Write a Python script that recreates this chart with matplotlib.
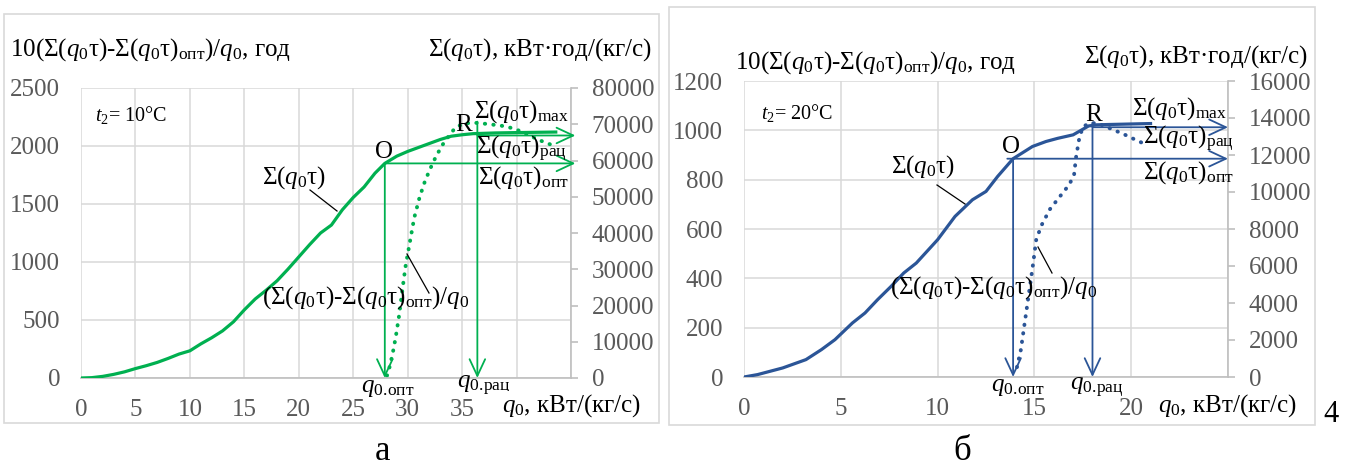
import matplotlib
matplotlib.use("Agg")
import matplotlib.pyplot as plt
from matplotlib.patches import Rectangle
from matplotlib.lines import Line2D

plt.rcParams['font.family'] = ['Liberation Serif', 'DejaVu Serif']
plt.rcParams['mathtext.fontset'] = 'custom'
plt.rcParams['mathtext.rm'] = 'Liberation Serif'
plt.rcParams['mathtext.it'] = 'Liberation Serif:italic'
plt.rcParams['mathtext.bf'] = 'Liberation Serif:bold'

# ---------------- data: panel "а" (t2 = 10 °C) ----------------
q0_a = [0, 1, 2, 3, 4, 5, 6, 7, 8, 9, 10, 11, 12, 13, 14, 15, 16, 17, 18, 19,
        20, 21, 22, 23, 24, 25, 26, 27, 27.9, 29, 30, 31, 32, 33, 34, 35, 36,
        38, 40, 43.6]
sum_a = [0, 100, 450, 1000, 1700, 2600, 3400, 4300, 5400, 6600, 7500, 9400,
         11100, 13000, 15500, 18800, 21800, 24200, 26800, 30000, 33400, 36800,
         40000, 42200, 46400, 49800, 52700, 56500, 59200, 61200, 62500, 63600,
         64700, 65800, 66700, 67100, 67400, 67600, 67700, 67850]
q0_diff_a = [28.1, 28.3, 28.6, 28.9, 29.2, 29.5, 29.8, 30.2, 30.6, 31.1, 31.6,
             32.1, 32.6, 33.2, 33.8, 34.4, 35.2, 36.2, 37.3, 38.6, 39.8, 41.0,
             42.1, 43.2]
diff_a = [20, 80, 200, 350, 530, 750, 960, 1170, 1380, 1560, 1700, 1810, 1910,
          2010, 2090, 2160, 2195, 2200, 2190, 2175, 2150, 2100, 2050, 2010]
q_opt_a, sum_opt_a = 27.9, 59200
q_rac_a, sum_rac_a, diff_max_a = 36.4, 66900, 2210

# ---------------- data: panel "б" (t2 = 20 °C) ----------------
q0_b = [0, 0.7, 2, 3.2, 4, 4.7, 5.6, 6.25, 6.9, 7.6, 8.25, 8.9, 10, 10.9, 11.8,
        12.5, 13.1, 13.9, 14.9, 15.6, 16.2, 17, 17.45, 17.8, 18.2, 18.9, 21]
sum_b = [0, 130, 490, 940, 1480, 2020, 2920, 3460, 4180, 4900, 5620, 6160,
         7420, 8680, 9580, 10030, 10840, 11800, 12460, 12730, 12900, 13090,
         13360, 13570, 13630, 13650, 13700]
q0_diff_b = [14.1, 14.3, 14.5, 14.7, 14.9, 15.1, 15.4, 15.8, 16.3, 16.8, 17.05,
             17.15, 17.3, 17.5, 17.9, 18.3, 18.9, 19.6, 20.4, 20.7]
diff_b = [40, 110, 220, 330, 440, 560, 620, 680, 730, 780, 820, 890, 960, 1015,
          1030, 1028, 1008, 985, 955, 945]
q_opt_b, sum_opt_b = 13.9, 11800
q_rac_b, sum_rac_b, diff_max_b = 18.0, 13500, 1030

GREEN = '#00B050'
BLUE = '#2B5597'
TICK_C = '#595959'
GRID_C = '#D9D9D9'
SPINE_C = '#BFBFBF'
FS = 18

W, H = 1353, 470
fig = plt.figure(figsize=(W / 100, H / 100), dpi=100)


def fx(x):
    return x / W


def fy(y):
    return 1 - y / H


def ftext(x, y, s, size=FS, ha='left', va='center', **kw):
    fig.text(fx(x), fy(y), s, fontsize=size, ha=ha, va=va, color='black', **kw)


def fline(x0, y0, x1, y1):
    fig.add_artist(Line2D([fx(x0), fx(x1)], [fy(y0), fy(y1)], color='black',
                          lw=0.9, transform=fig.transFigure))


def frame(x0, y0, x1, y1):
    fig.add_artist(Rectangle((fx(x0), fy(y1)), (x1 - x0) / W, (y1 - y0) / H,
                             transform=fig.transFigure, fill=False,
                             ec='#D9D9D9', lw=1.2))


def make_panel(l, t, r, b, xmax, ylmax, ylstep, yrmax, yrstep, xlabels_upto):
    ax = fig.add_axes([fx(l), fy(b), (r - l) / W, (b - t) / H])
    ax.set_xlim(0, xmax)
    ax.set_ylim(0, ylmax)
    ax.set_xticks(range(0, int(xmax) + 1, 5))
    ax.set_xticklabels([str(v) if v <= xlabels_upto else '' for v in range(0, int(xmax) + 1, 5)])
    ax.set_yticks(range(0, ylmax + 1, ylstep))
    ax.grid(True, color=GRID_C, lw=1.1)
    ax.set_axisbelow(True)
    for s in ('top', 'left', 'right'):
        ax.spines[s].set_visible(False)
    ax.spines['bottom'].set_color(SPINE_C)
    ax.spines['bottom'].set_linewidth(1.2)
    ax.tick_params(axis='both', length=0, labelsize=FS, colors=TICK_C)
    ax.tick_params(axis='x', pad=15)
    ax.tick_params(axis='y', pad=15)
    ax2 = ax.twinx()
    ax2.set_ylim(0, yrmax)
    ax2.set_yticks(range(0, yrmax + 1, yrstep))
    for s in ('top', 'left', 'bottom'):
        ax2.spines[s].set_visible(False)
    ax2.spines['right'].set_color(SPINE_C)
    ax2.spines['right'].set_linewidth(1.2)
    ax2.tick_params(axis='y', direction='out', length=5, width=1.2,
                    color=SPINE_C, labelsize=FS, labelcolor=TICK_C, pad=10)
    return ax, ax2


def arrow(ax, x0, y0, x1, y1, color):
    ax.annotate('', xy=(x1, y1), xytext=(x0, y0), annotation_clip=False,
                arrowprops=dict(arrowstyle='->,head_length=0.6,head_width=0.28',
                                lw=1.3, color=color, shrinkA=0, shrinkB=0,
                                mutation_scale=20))


S = r"Σ($q_0$τ)"
DIFF = r"(Σ($q_0$τ)-Σ($q_0$τ)$_{\mathrm{опт}}$)/$q_0$"
LTITLE = "10" + DIFF + ", год"
RTITLE = r"Σ($q_0$τ), кВт·год/(кг/с)"
XLAB = r"$q_0$, кВт/(кг/с)"
QOPT = r"$q_{0.\!\mathrm{опт}}$"
QRAC = r"$q_{0.\!\mathrm{рац}}$"

# ---------------- panel а ----------------
frame(4, 14, 659, 423)
ax, ax2 = make_panel(81, 88, 571, 378, 45, 2500, 500, 80000, 10000, 35)
ax2.plot(q0_a, sum_a, color=GREEN, lw=2.3, solid_joinstyle='round')
ax.plot(q0_diff_a, diff_a, color=GREEN, lw=2.8, linestyle=(0, (0.1, 2.1)),
        dash_capstyle='round')
arrow(ax2, q_opt_a, sum_opt_a, q_opt_a, 0, GREEN)
arrow(ax2, q_opt_a, sum_opt_a, 45.4, sum_opt_a, GREEN)
arrow(ax, q_rac_a, diff_max_a, q_rac_a, 0, GREEN)
arrow(ax2, q_rac_a, sum_rac_a, 45.4, sum_rac_a, GREEN)

ftext(10, 50, LTITLE)
ftext(652, 50, RTITLE, ha='right')
ftext(95, 115, r"$t_2$= 10°C", size=14.5)
ftext(384, 152, "O", ha='center')
ftext(464, 125, "R", ha='center')
ftext(474, 112, S + r"$_{\mathrm{max}}$")
ftext(476, 149, S + r"$_{\mathrm{рац}}$")
ftext(478, 178, S + r"$_{\mathrm{опт}}$")
ftext(294, 178, S, ha='center')
fline(310, 190, 337, 211)
ftext(366, 298, DIFF, ha='center')
fline(407, 254, 429, 293)
ftext(388, 388, QOPT, ha='center')
ftext(484, 386, QRAC, ha='center')
fig.text(fx(572), fy(406), XLAB, fontsize=FS, ha='center', va='center',
         bbox=dict(fc='white', ec='none', pad=1))
ftext(382, 452, "а", size=25, ha='center')

# ---------------- panel б ----------------
frame(669, 7, 1315, 425)
bx, bx2 = make_panel(744, 81, 1228, 377, 25, 1200, 200, 16000, 2000, 20)
bx2.plot(q0_b, sum_b, color=BLUE, lw=2.3, solid_joinstyle='round')
bx.plot(q0_diff_b, diff_b, color=BLUE, lw=2.8, linestyle=(0, (0.1, 2.1)),
        dash_capstyle='round')
arrow(bx2, q_opt_b, sum_opt_b, q_opt_b, 0, BLUE)
arrow(bx2, q_opt_b - 0.3, sum_opt_b, 25.0, sum_opt_b, BLUE)
arrow(bx, q_rac_b, diff_max_b, q_rac_b, 0, BLUE)
arrow(bx2, q_rac_b, sum_rac_b, 25.0, sum_rac_b, BLUE)

ftext(735, 63, LTITLE)
ftext(1308, 57, RTITLE, ha='right')
ftext(761, 113, r"$t_2$= 20°C", size=14.5)
ftext(1011, 147, "O", ha='center')
ftext(1094, 115, "R", ha='center')
ftext(1132, 109, S + r"$_{\mathrm{max}}$")
ftext(1143, 139, S + r"$_{\mathrm{рац}}$")
ftext(1143, 173, S + r"$_{\mathrm{опт}}$")
ftext(923, 167, S, ha='center')
fline(937, 185, 965, 204)
ftext(994, 288, DIFF, ha='center')
fline(1038, 247, 1052, 273)
ftext(1018, 387, QOPT, ha='center')
ftext(1097, 388, QRAC, ha='center')
fig.text(fx(1228), fy(406), XLAB, fontsize=FS, ha='center', va='center',
         bbox=dict(fc='white', ec='none', pad=1))
ftext(962, 452, "б", size=25, ha='center')
ftext(1331, 414, "4", size=22, ha='center')

fig.savefig("out.png", dpi=100)
